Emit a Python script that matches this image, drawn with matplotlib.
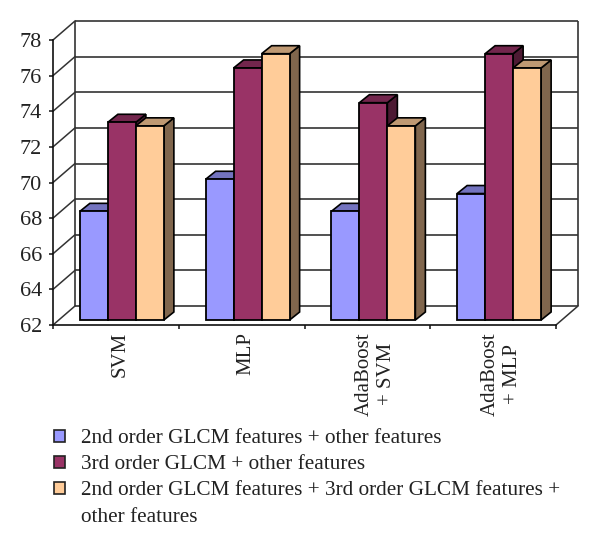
# -*- coding: utf-8 -*-

import matplotlib
matplotlib.use("Agg")
import matplotlib.pyplot as plt
from matplotlib.patches import Polygon, Rectangle

# data
categories = ["SVM", "MLP", "AdaBoost\n+ SVM", "AdaBoost\n+ MLP"]
series_2nd = [68.1, 69.9, 68.1, 69.1]
series_3rd = [73.1, 76.15, 74.2, 76.95]
series_both = [72.9, 76.95, 72.9, 76.15]
y_ticks = [62, 64, 66, 68, 70, 72, 74, 76, 78]
legend_labels = ["2nd order GLCM features + other features",
                 "3rd order GLCM + other features",
                 "2nd order GLCM features + 3rd order GLCM features +",
                 "other features"]

W, H = 600, 548
PX_X = 4 / 503.0     # category units per pixel
PX_Y = 16 / 285.0    # value units per pixel


def shade(col, f):
    return tuple(c * f for c in matplotlib.colors.to_rgb(col))


def main():
    plt.rcParams["font.family"] = ["Liberation Serif", "DejaVu Serif"]

    fig = plt.figure(figsize=(W / 100, H / 100), dpi=100)
    ax = fig.add_axes([53 / W, (H - 325) / H, 503 / W, 285 / H])
    ax.set_xlim(0, 4)
    ax.set_ylim(62, 78)
    ax.patch.set_visible(False)
    for s in ["top", "right"]:
        ax.spines[s].set_visible(False)
    for s in ["left", "bottom"]:
        ax.spines[s].set_linewidth(1.2)
        ax.spines[s].set_color("#111111")

    # walls of the fake 3d box
    wx = 22 * PX_X
    wy = 19 * PX_Y
    grid = "#333333"
    ax.hlines([v + wy for v in y_ticks], wx, 4 + wx, color=grid, lw=1.2, clip_on=False, zorder=1)
    for v in y_ticks:
        ax.plot([0, wx], [v, v + wy], color=grid, lw=1.1, clip_on=False, zorder=1)
    ax.plot([4, 4 + wx], [62, 62 + wy], color=grid, lw=1.1, clip_on=False, zorder=1)
    ax.vlines([wx, 4 + wx], 62 + wy, 78 + wy, color=grid, lw=1.2, clip_on=False, zorder=1)

    # bars
    bw = 28 * PX_X
    bx = 6 * PX_X
    by = 5 * PX_Y
    dx = 10 * PX_X
    dy = 8 * PX_Y
    start = (1 - 3 * bw) / 2
    colors = ["#9999FF", "#993366", "#FFCC99"]
    z = 2
    for i in range(len(categories)):
        for j, vals in enumerate([series_2nd, series_3rd, series_both]):
            x = i + start + j * bw + bx
            top = vals[i] + by
            ax.add_patch(Polygon([(x + bw, 62 + by), (x + bw + dx, 62 + by + dy),
                                  (x + bw + dx, top + dy), (x + bw, top)],
                                 fc=shade(colors[j], 0.5), ec="black", lw=1.2,
                                 clip_on=False, zorder=z))
            ax.add_patch(Polygon([(x, top), (x + bw, top),
                                  (x + bw + dx, top + dy), (x + dx, top + dy)],
                                 fc=shade(colors[j], 0.75), ec="black", lw=1.2,
                                 clip_on=False, zorder=z))
            ax.bar(x, vals[i] - 62, bw, bottom=62 + by, align="edge",
                   color=colors[j], edgecolor="black", lw=1.3,
                   clip_on=False, zorder=z + 0.5)
            z += 1

    # axes text
    ax.set_yticks(y_ticks)
    ax.tick_params(axis="y", length=3, width=1.1, pad=5, labelsize=16, color="#111111")
    for t in ax.get_yticklabels():
        t.set_color("#222222")
    ax.set_xticks(range(5))
    ax.set_xticklabels([])
    ax.tick_params(axis="x", which="major", length=3, width=1.1, color="#111111")
    nudge = [4, 4, 8, 8]
    ax.set_xticks([i + 0.5 + nudge[i] * PX_X for i in range(4)], minor=True)
    ax.set_xticklabels(categories, minor=True, rotation=90, fontsize=15,
                       va="top", ha="center", multialignment="center",
                       color="#222222", linespacing=1.25)
    ax.tick_params(axis="x", which="minor", length=0, pad=5)

    # legend, written out by hand because of the wrapped last row
    baselines = [443, 469, 495, 522]
    for k, lab in enumerate(legend_labels):
        fig.text(81 / W, 1 - baselines[k] / H, lab, fontsize=15.3, color="#222222",
                 ha="left", va="baseline")
        if k < 3:
            fig.add_artist(Rectangle((54 / W, 1 - (baselines[k] - 1) / H), 11 / W, 12 / H,
                                     transform=fig.transFigure, fc=colors[k],
                                     ec="#222222", lw=1.2))

    fig.savefig("out.png", dpi=100)
    plt.close()


if __name__ == "__main__":
    main()
